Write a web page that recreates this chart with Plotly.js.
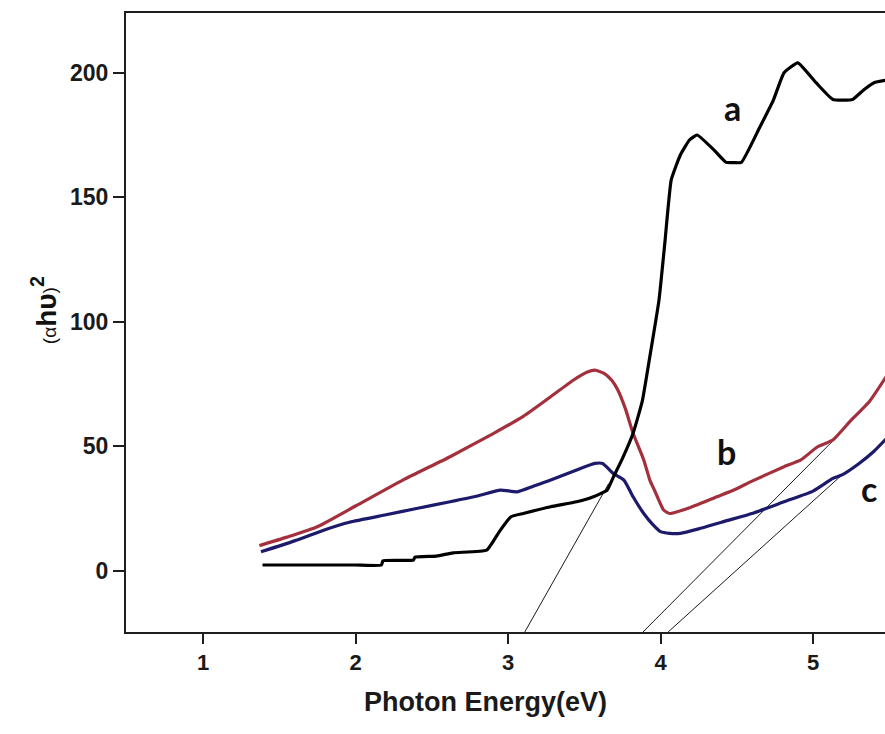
<!DOCTYPE html>
<html>
<head>
<meta charset="utf-8">
<script src="https://cdn.plot.ly/plotly-3.0.1.min.js"></script>
<style>
  html, body { margin: 0; padding: 0; background: #ffffff; }
  #chart { width: 885px; height: 734px; }
</style>
</head>
<body>
<div id="chart"></div>
<script>
// ---- Data ----
// Curve a (black)
const energyA = [1.39, 1.7, 2.0, 2.17, 2.18, 2.38, 2.39, 2.53, 2.64, 2.86, 2.91, 2.95, 3.02, 3.10, 3.28, 3.45, 3.56, 3.65, 3.69, 3.75, 3.82, 3.88, 3.93, 3.99, 4.03, 4.07, 4.13, 4.19, 4.24, 4.35, 4.43, 4.48, 4.53, 4.65, 4.74, 4.81, 4.90, 5.02, 5.13, 5.26, 5.33, 5.40, 5.48];
const valuesA = [2.3, 2.3, 2.3, 2.3, 4.0, 4.3, 5.5, 5.9, 7.2, 8.3, 12.5, 16.3, 21.7, 23.0, 25.7, 27.7, 29.7, 32.4, 37.5, 45, 55.2, 68, 86, 108.7, 132.7, 156.9, 167, 173, 175, 169, 164, 163.9, 164, 178, 189, 200, 204, 196, 189.3, 189.3, 193, 196, 197];
// Curve b (red)
const energyB = [1.37, 1.55, 1.75, 2.0, 2.31, 2.62, 2.9, 3.1, 3.28, 3.43, 3.52, 3.57, 3.63, 3.68, 3.72, 3.77, 3.82, 3.89, 3.93, 3.96, 4.02, 4.06, 4.11, 4.2, 4.37, 4.48, 4.6, 4.81, 4.92, 5.03, 5.13, 5.25, 5.37, 5.48];
const valuesB = [10.1, 13.5, 17.7, 26, 36.4, 45.8, 55, 62, 69.9, 76.6, 79.8, 80.6, 79.3, 76.5, 72.6, 65, 55.2, 44.5, 36.4, 32.4, 24.4, 23, 23.7, 25.5, 29.7, 32.4, 36, 41.8, 44.5, 49.8, 52.5, 60.5, 68, 78];
// Curve c (blue)
const energyC = [1.38, 1.6, 1.8, 1.96, 2.2, 2.4, 2.62, 2.8, 2.95, 3.06, 3.17, 3.28, 3.45, 3.57, 3.62, 3.69, 3.76, 3.82, 3.89, 3.95, 4.0, 4.06, 4.13, 4.25, 4.4, 4.6, 4.81, 5.0, 5.13, 5.19, 5.3, 5.4, 5.48];
const valuesC = [7.6, 12, 16.5, 19.5, 22.5, 25, 27.7, 30, 32.4, 31.7, 34, 36.4, 40.5, 43.1, 43.1, 39.1, 36.4, 29.7, 23.0, 18.5, 15.7, 15.0, 15.0, 16.8, 19.5, 23.0, 27.7, 32, 37.1, 38.5, 43, 48, 53];
// Tangent (extrapolation) lines
const tangentAx = [3.11, 3.66];
const tangentAy = [-24.6, 35];
const tangentBx = [3.885, 5.16];
const tangentBy = [-24.6, 54];
const tangentCx = [4.05, 5.19];
const tangentCy = [-24.6, 38.5];
// Curve labels
const labelText = ['a', 'b', 'c'];
const labelX = [4.47, 4.43, 5.37];
const labelY = [186, 47.7, 33.2];
// Axis ticks
const xTicks = [1, 2, 3, 4, 5];
const yTicks = [0, 50, 100, 150, 200];

const traces = [
  { x: tangentAx, y: tangentAy, mode: 'lines', line: { color: '#1a1a1a', width: 1 }, hoverinfo: 'skip' },
  { x: tangentBx, y: tangentBy, mode: 'lines', line: { color: '#1a1a1a', width: 1 }, hoverinfo: 'skip' },
  { x: tangentCx, y: tangentCy, mode: 'lines', line: { color: '#1a1a1a', width: 1 }, hoverinfo: 'skip' },
  { x: energyB, y: valuesB, mode: 'lines', name: 'b', line: { color: '#a3303c', width: 3.2, shape: 'spline', smoothing: 0.5 } },
  { x: energyC, y: valuesC, mode: 'lines', name: 'c', line: { color: '#1d1a6c', width: 3.2, shape: 'spline', smoothing: 0.5 } },
  { x: energyA, y: valuesA, mode: 'lines', name: 'a', line: { color: '#000000', width: 3.2, shape: 'spline', smoothing: 0.4 } }
];

const annotations = labelText.map((t, i) => ({
  x: labelX[i], y: labelY[i], xref: 'x', yref: 'y', text: t, showarrow: false,
  font: { family: 'Lato, "Open Sans", sans-serif', size: 34, color: '#111111', weight: 700 },
  xanchor: 'center', yanchor: 'middle'
}));

annotations.push({
  xref: 'paper', yref: 'paper', x: -0.108, y: 0.52, textangle: -90,
  text: "<span style='font-size:19px;font-weight:normal'>(α</span><b>hυ</b><span style='font-size:19px;font-weight:normal'>)</span><sup><b>2</b></sup>",
  showarrow: false, xanchor: 'center', yanchor: 'middle',
  font: { family: '"Liberation Sans", Arial, sans-serif', size: 28, color: '#111111' }
});
annotations.push({
  xref: 'paper', yref: 'paper', x: 0.311, y: -0.113,
  text: '<b>Photon Energy(eV)</b>', showarrow: false, xanchor: 'left', yanchor: 'middle',
  font: { family: '"Liberation Sans", Arial, sans-serif', size: 27, color: '#1a1a1a' }
});

const layout = {
  width: 885, height: 734,
  margin: { l: 126, r: 0, t: 13, b: 102, pad: 0 },
  paper_bgcolor: '#ffffff', plot_bgcolor: '#ffffff',
  showlegend: false,
  xaxis: {
    range: [0.495, 5.472], tickvals: xTicks, ticktext: xTicks.map(String),
    showgrid: false, zeroline: false, showline: true, mirror: true,
    linecolor: '#1e1e1e', linewidth: 2, ticks: 'outside', ticklen: 10, tickwidth: 2, tickcolor: '#1e1e1e',
    tickfont: { family: '"Liberation Sans", Arial, sans-serif', size: 22, color: '#1a1a1a', weight: 700 },
    fixedrange: true
  },
  yaxis: {
    range: [-24.6, 224.0], tickvals: yTicks, ticktext: yTicks.map(String),
    showgrid: false, zeroline: false, showline: true, mirror: false,
    linecolor: '#1e1e1e', linewidth: 2, ticks: 'outside', ticklen: 11, tickwidth: 2, tickcolor: '#1e1e1e',
    tickfont: { family: '"Liberation Sans", Arial, sans-serif', size: 23, color: '#1a1a1a', weight: 700 },
    fixedrange: true
  },
  annotations: annotations
};

Plotly.newPlot('chart', traces, layout, { displayModeBar: false, staticPlot: true });
</script>
</body>
</html>
